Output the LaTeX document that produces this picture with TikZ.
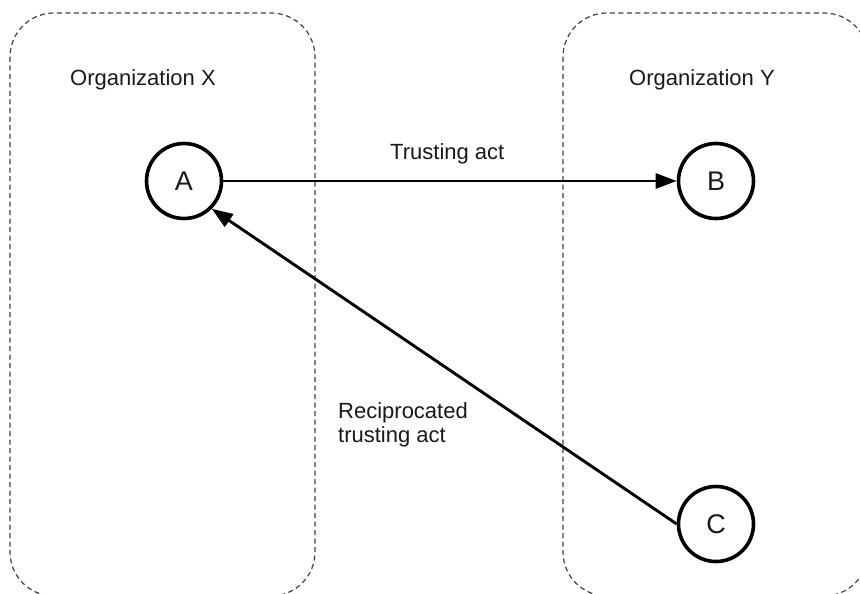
\documentclass[tikz,border=0pt]{standalone}
\usepackage{fontspec}
\setmainfont{Liberation Sans}
\usetikzlibrary{arrows.meta}

\tikzset{
  orgbox/.style={draw=black!75, line width=1.2pt, dash pattern=on 5pt off 3.5pt, rounded corners=44pt},
  actor/.style={circle, draw=black, line width=3.6pt, minimum size=75pt, inner sep=0pt,
                font=\fontsize{27}{30}\selectfont, text=black!90},
  caption/.style={inner sep=0pt, font=\fontsize{22}{24}\selectfont, text=black!90},
  act/.style={line width=2.9pt, -{Triangle[length=21pt, width=15pt]}}
}

\begin{document}
\begin{tikzpicture}[x=1pt, y=-1pt]
  \useasboundingbox (0,0) rectangle (860,594);
  \clip (0,0) rectangle (860,594);

  % organisation boundaries
  \draw[orgbox] (10,13) rectangle (315,596);
  \draw[orgbox] (563,13) rectangle (868,596);

  \node[caption, anchor=base west] (orgx) at (70,86) {Organization X};
  \node[caption, anchor=base west] (orgy) at (629,86) {Organization Y};

  % actors
  \node[actor] (A) at (184,181) {A};
  \node[actor] (B) at (716,181) {B};
  \node[actor] (C) at (716,524) {C};

  % acts between actors
  \draw[act] (A.east) -- (B.west);
  \draw[act] (C.west) -- (A.-45);

  \node[caption, anchor=base west] (trust) at (390,159) {Trusting act};
  \node[caption, anchor=north west, align=left] (recip) at (338,402)
    {Reciprocated\\trusting act};
\end{tikzpicture}
\end{document}
